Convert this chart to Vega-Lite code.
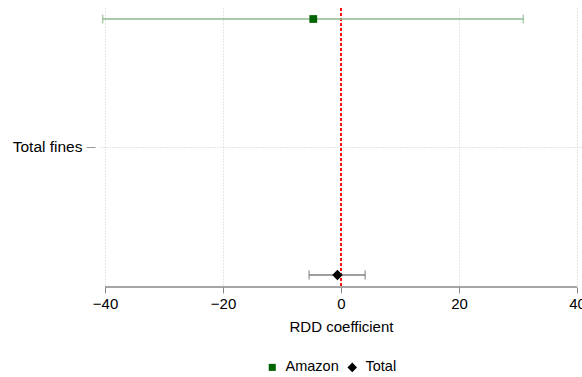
{
  "$schema": "https://vega.github.io/schema/vega-lite/v6.json",
  "autosize": "none",
  "width": 482,
  "height": 279,
  "padding": {"left": 100, "top": 8, "right": 0, "bottom": 90},
  "config": {
    "view": {"stroke": null},
    "font": "Liberation Sans",
    "axis": {"labelFont": "Liberation Sans", "titleFont": "Liberation Sans", "labelFontSize": 15, "titleFontSize": 15, "labelColor": "#000", "titleColor": "#000", "titleFontWeight": "normal"},
    "legend": {"labelFont": "Liberation Sans", "labelFontSize": 14.5, "labelColor": "#000"}
  },
  "data": {"values": [
    {"series": "Amazon", "pos": 2, "est": -4.7, "lo": -40.4, "hi": 30.9},
    {"series": "Total", "pos": 0, "est": -0.6, "lo": -5.4, "hi": 4.1}
  ]},
  "layer": [
    {
      "mark": {"type": "rule", "color": "#888888", "strokeWidth": 1},
      "encoding": {
        "x": {"datum": -40, "type": "quantitative"},
        "x2": {"datum": 40},
        "y": {"datum": -0.094, "type": "quantitative"}
      }
    },
    {
      "mark": {"type": "rule", "color": "#ff0000", "strokeWidth": 1.5, "strokeDash": [3, 2]},
      "encoding": {"x": {"datum": 0, "type": "quantitative"}}
    },
    {
      "transform": [{"filter": "datum.series === 'Amazon'"}],
      "layer": [
        {"mark": {"type": "rule", "strokeWidth": 1.5, "color": "#8fb88f"},
         "encoding": {"x": {"field": "lo", "type": "quantitative"}, "x2": {"field": "hi"}, "y": {"field": "pos", "type": "quantitative"}}},
        {"mark": {"type": "tick", "orient": "vertical", "size": 9, "thickness": 1.5, "color": "#8fb88f"},
         "encoding": {"x": {"field": "lo", "type": "quantitative"}, "y": {"field": "pos", "type": "quantitative"}}},
        {"mark": {"type": "tick", "orient": "vertical", "size": 9, "thickness": 1.5, "color": "#8fb88f"},
         "encoding": {"x": {"field": "hi", "type": "quantitative"}, "y": {"field": "pos", "type": "quantitative"}}}
      ]
    },
    {
      "transform": [{"filter": "datum.series === 'Total'"}],
      "layer": [
        {"mark": {"type": "rule", "strokeWidth": 1.5, "color": "#7f7f7f"},
         "encoding": {"x": {"field": "lo", "type": "quantitative"}, "x2": {"field": "hi"}, "y": {"field": "pos", "type": "quantitative"}}},
        {"mark": {"type": "tick", "orient": "vertical", "size": 9, "thickness": 1.5, "color": "#7f7f7f"},
         "encoding": {"x": {"field": "lo", "type": "quantitative"}, "y": {"field": "pos", "type": "quantitative"}}},
        {"mark": {"type": "tick", "orient": "vertical", "size": 9, "thickness": 1.5, "color": "#7f7f7f"},
         "encoding": {"x": {"field": "hi", "type": "quantitative"}, "y": {"field": "pos", "type": "quantitative"}}}
      ]
    },
    {
      "mark": {"type": "point", "filled": true, "opacity": 1, "size": 60},
      "encoding": {
        "x": {
          "field": "est", "type": "quantitative",
          "scale": {"domain": [-40.85, 40.85], "nice": false, "zero": false},
          "axis": {"values": [-40, -20, 0, 20, 40], "title": "RDD coefficient", "domain": false, "tickColor": "#888888", "tickSize": 6, "labelPadding": 3, "titlePadding": 8, "grid": true, "gridColor": "#cccccc", "gridDash": [1, 2], "labelFlush": false}
        },
        "y": {
          "field": "pos", "type": "quantitative",
          "scale": {"domain": [-0.094, 2.086], "nice": false, "zero": false},
          "axis": {"values": [1], "labelExpr": "'Total fines'", "title": null, "domain": false, "offset": 5, "tickSize": 9, "tickColor": "#999999", "labelPadding": 4, "labelFontSize": 15.5, "grid": true, "gridColor": "#cccccc", "gridDash": [1, 2]}
        },
        "color": {"field": "series", "type": "nominal", "scale": {"domain": ["Amazon", "Total"], "range": ["#006400", "#000000"]}, "legend": {"title": null, "orient": "none", "direction": "horizontal", "legendX": 165, "legendY": 352, "symbolSize": 50, "columnPadding": 6, "labelOffset": 6}},
        "shape": {"field": "series", "type": "nominal", "scale": {"domain": ["Amazon", "Total"], "range": ["M-1,-1H1V1H-1Z", "M0,-1.35L1.35,0L0,1.35L-1.35,0Z"]}}
      }
    }
  ]
}
